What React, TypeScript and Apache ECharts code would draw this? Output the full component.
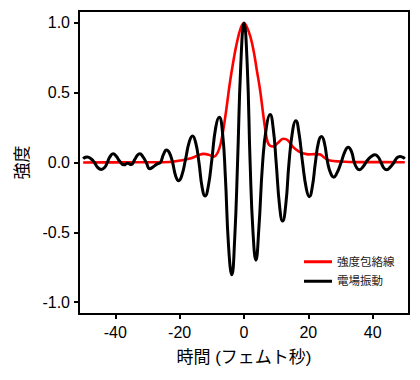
import React, { useEffect, useRef } from "react";
import * as echarts from "echarts";

const timeTicks = [-40, -20, 0, 20, 40];
const intensityTicks = [-1, -0.5, 0, 0.5, 1];

const seriesNames = ["強度包絡線", "電場振動"];

const envelopeT = [-50, -40, -30, -23, -19.9, -16.8, -14.5, -12.6, -11, -9.4, -8.2, -7.2, -6.4, -5.5, -4.4, -3.2, -2.2, -1, 0, 1, 2, 3, 4, 5, 6, 6.6, 7.3, 8.1, 9.1, 10.5, 12.2, 13.6, 15.3, 17, 18.5, 20, 22, 23.6, 25, 26.7, 30, 35, 40, 50];
const envelopeV = [0, 0.001, 0.002, 0.004, 0.014, 0.028, 0.048, 0.062, 0.056, 0.042, 0.07, 0.14, 0.24, 0.38, 0.57, 0.74, 0.86, 0.965, 1.0, 0.965, 0.9, 0.8, 0.66, 0.52, 0.34, 0.24, 0.15, 0.12, 0.115, 0.14, 0.17, 0.16, 0.11, 0.08, 0.065, 0.058, 0.06, 0.058, 0.035, 0.014, 0.007, 0.003, 0.003, 0.002];

const fieldT = [-50, -49.3, -48.7, -47.5, -46.5, -45.5, -44.4, -43.3, -42.5, -41.7, -40.7, -39.7, -38.7, -37.3, -36.2, -35.1, -34, -33.2, -32.4, -31.4, -30.4, -29.3, -28.2, -27, -26, -25, -24.1, -23.2, -22.2, -21.2, -20.3, -19.3, -18.2, -17, -16, -15, -14, -13, -12.1, -11.1, -10, -8.8, -7.7, -6.7, -5.8, -4.8, -3.8, -2.9, -2, -1, 0, 1, 1.9, 2.8, 3.7, 4.6, 5.8, 7, 8.1, 9.1, 10, 11.1, 12, 13, 14, 15.2, 16.1, 17.1, 18.2, 19.4, 20.3, 21.2, 22.2, 23.2, 24.1, 25, 26, 27, 27.9, 28.8, 30.2, 31.4, 32.4, 33.4, 34.3, 35.1, 35.9, 37, 38.5, 39.7, 40.7, 41.7, 42.6, 43.5, 44.4, 45.4, 46.6, 47.6, 48.5, 49.3, 50];
const fieldV = [0.027, 0.038, 0.04, 0.025, 0.0, -0.035, -0.05, -0.035, 0.0, 0.04, 0.062, 0.045, 0.01, -0.017, -0.005, -0.015, 0.02, 0.05, 0.062, 0.04, 0.0, -0.045, -0.03, -0.01, 0.0, 0.06, 0.09, 0.07, 0.0, -0.1, -0.13, -0.09, 0.02, 0.15, 0.19, 0.14, 0.0, -0.18, -0.24, -0.17, 0.02, 0.25, 0.325, 0.22, -0.1, -0.6, -0.805, -0.55, 0.0, 0.7, 1.0, 0.7, 0.0, -0.5, -0.7, -0.48, 0.0, 0.26, 0.344, 0.24, 0.0, -0.32, -0.42, -0.3, 0.0, 0.24, 0.3, 0.21, 0.0, -0.19, -0.245, -0.18, 0.0, 0.15, 0.186, 0.14, 0.0, -0.08, -0.105, -0.08, 0.0, 0.08, 0.11, 0.08, 0.0, -0.04, -0.052, -0.03, 0.02, 0.045, 0.055, 0.04, 0.0, -0.04, -0.052, -0.035, 0.0, 0.035, 0.043, 0.038, 0.027];

const zip = (xs: number[], ys: number[]) => xs.map((x, i) => [x, ys[i]]);

export default function App() {
  const ref = useRef<HTMLDivElement>(null);
  useEffect(() => {
    if (!ref.current) return;
    const chart = echarts.init(ref.current, undefined, { renderer: "svg" });
    const latin = "'Liberation Sans', Arial, 'Noto Sans CJK JP', sans-serif";
    const cjk = "'Liberation Sans', 'Noto Sans CJK JP', sans-serif";
    chart.setOption({
      animation: false,
      backgroundColor: "#fff",
      grid: {
        left: 79,
        right: 11,
        top: 11,
        bottom: 66,
        show: true,
        borderColor: "#000",
        borderWidth: 2,
        backgroundColor: "transparent",
      },
      legend: {
        orient: "vertical",
        left: 299,
        top: 251,
        itemGap: 8,
        itemWidth: 28,
        itemHeight: 3,
        icon: "rect",
        data: seriesNames,
        textStyle: { fontSize: 11.5, color: "#222", fontFamily: cjk },
      },
      xAxis: {
        type: "value",
        min: -51.3,
        max: 51.3,
        name: "時間 (フェムト秒)",
        nameLocation: "middle",
        nameGap: 35,
        nameTextStyle: { fontSize: 17, color: "#000", fontFamily: cjk },
        axisLine: { show: true, onZero: false, lineStyle: { color: "#000", width: 2 } },
        axisTick: {
          show: true,
          inside: false,
          length: 5,
          lineStyle: { color: "#000", width: 2 },
          customValues: timeTicks,
        },
        axisLabel: {
          fontSize: 16,
          color: "#000",
          fontFamily: latin,
          margin: 10,
          customValues: timeTicks,
        },
        splitLine: { show: false },
      },
      yAxis: {
        type: "value",
        min: -1.086,
        max: 1.086,
        name: "強度",
        nameLocation: "middle",
        nameGap: 48,
        nameTextStyle: { fontSize: 17, color: "#000", fontFamily: cjk },
        axisLine: { show: true, onZero: false, lineStyle: { color: "#000", width: 2 } },
        axisTick: {
          show: true,
          inside: false,
          length: 5,
          lineStyle: { color: "#000", width: 2 },
          customValues: intensityTicks,
        },
        axisLabel: {
          fontSize: 16,
          color: "#000",
          fontFamily: latin,
          margin: 9,
          customValues: intensityTicks,
          formatter: (v: number) => v.toFixed(1),
        },
        splitLine: { show: false },
      },
      series: [
        {
          name: seriesNames[0],
          type: "line",
          data: zip(envelopeT, envelopeV),
          smooth: 0.4,
          showSymbol: false,
          symbol: "none",
          lineStyle: { color: "#ff0000", width: 2.6 },
          itemStyle: { color: "#ff0000" },
          z: 2,
        },
        {
          name: seriesNames[1],
          type: "line",
          data: zip(fieldT, fieldV),
          smooth: 0.5,
          showSymbol: false,
          symbol: "none",
          lineStyle: { color: "#000000", width: 3 },
          itemStyle: { color: "#000000" },
          z: 3,
        },
      ],
    });
    return () => chart.dispose();
  }, []);
  return <div ref={ref} style={{ width: 420, height: 380, position: "absolute", left: 0, top: 0 }} />;
}
